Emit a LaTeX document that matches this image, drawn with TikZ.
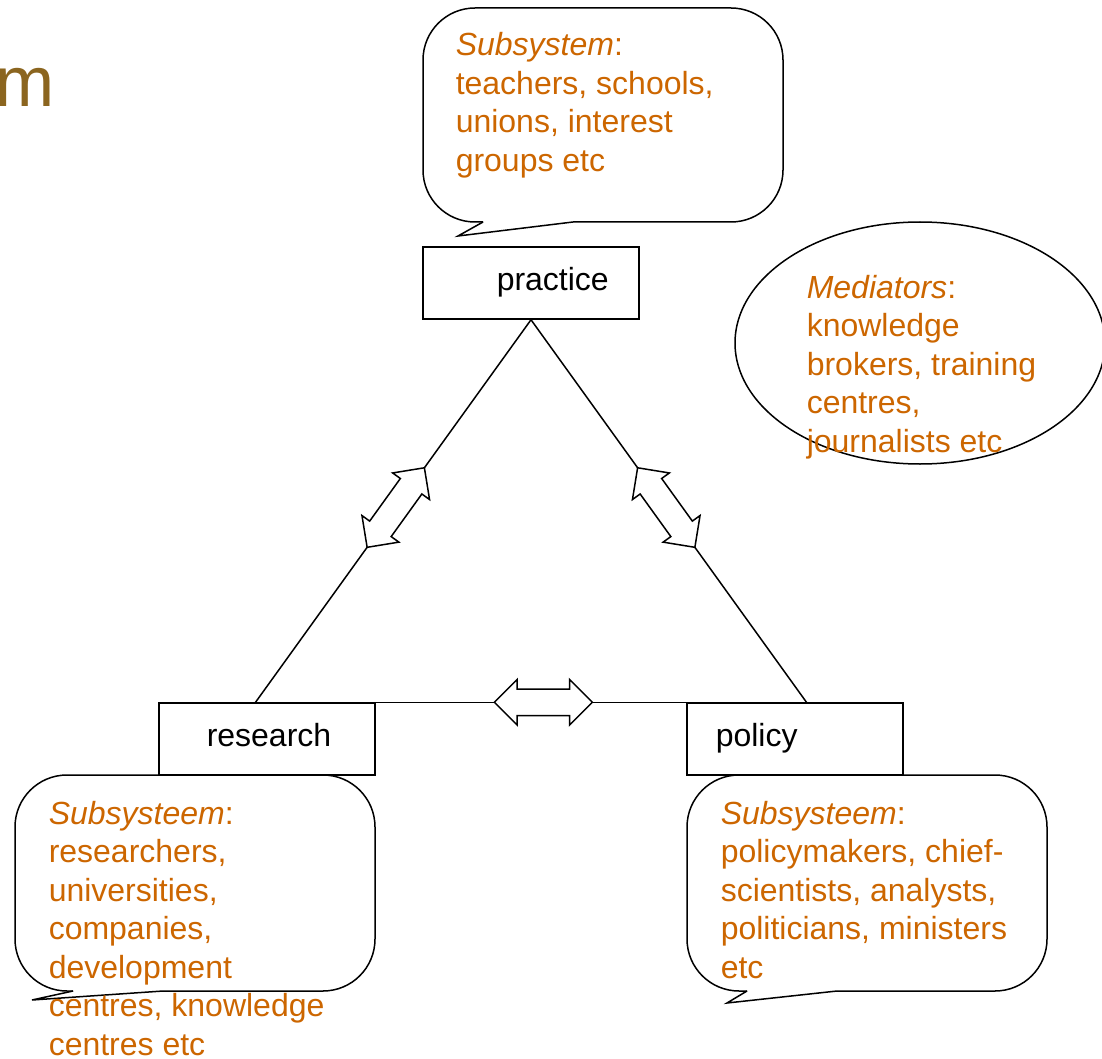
\documentclass[tikz,border=0pt]{standalone}
\usepackage{fontspec}
\setmainfont{Liberation Sans}
\usetikzlibrary{shapes.geometric,shapes.arrows}
\definecolor{subtext}{RGB}{204,102,0}
\definecolor{titlebrown}{RGB}{139,101,31}
\tikzset{
  box/.style={draw,minimum width=108pt,minimum height=36pt,inner sep=0pt},
  dblarrow/.style={draw,fill=white,double arrow,double arrow head extend=4.75pt,
    double arrow tip angle=90,minimum height=49pt,minimum width=22pt,
    inner xsep=0pt,inner ysep=6.25pt},
  subtxt/.style={anchor=base west,align=left,inner sep=0pt,text=subtext,
    font=\fontsize{16}{19.25}\selectfont},
  boxtxt/.style={anchor=base west,inner sep=0pt,font=\fontsize{16}{19.25}\selectfont}
}
\begin{document}
\begin{tikzpicture}[x=0.5pt,y=-0.5pt,line width=0.75pt]
\useasboundingbox (0,0) rectangle (1102,1059);
\node[anchor=base west,inner sep=0pt,text=titlebrown,font=\fontsize{35.5}{40}\selectfont] (title) at (-5,107) {m};
% the three boxes
\node[box] (practice) at (531,283) {};
\node[box] (research) at (267,739) {};
\node[box] (policy) at (795,739) {};
\node[boxtxt] (practicetxt) at (496,290) {practice};
\node[boxtxt] (researchtxt) at (206,746) {research};
\node[boxtxt] (policytxt) at (715,746) {policy};
\coordinate (researchtop) at (255,703);
\coordinate (policytop) at (807,703);
% triangle with double arrows
\draw (practice.south) -- node[dblarrow,sloped,pos=.49] (arrowleft) {} (researchtop);
\draw (practice.south) -- node[dblarrow,sloped,pos=.49] (arrowright) {} (policytop);
\draw (research.north east) -- node[dblarrow,pos=.54] (arrowmid) {} (policy.north west);
% callouts
\draw[rounded corners=26pt] (573,222)--(783,222)--(783,8)--(423,8)--(423,222)--(483,222);
\draw (483,222)--(458,236)--(573,222);
\draw[rounded corners=26pt] (163,991)--(375,991)--(375,775)--(15,775)--(15,991)--(73,991);
\draw (73,991)--(32,1000)--(163,991);
\draw[rounded corners=26pt] (837,991)--(1047,991)--(1047,775)--(687,775)--(687,991)--(747,991);
\draw (747,991)--(727,1003)--(837,991);
\node[draw,ellipse,minimum width=185pt,minimum height=121pt,inner sep=0pt] (mediators) at (920,343) {};
% texts (base = last line)
\node[subtxt] (practicesub) at (455,171.5) {\textit{Subsystem}:\\teachers, schools,\\unions, interest\\groups etc};
\node[subtxt] (mediatorstxt) at (806,452) {\textit{Mediators}:\\knowledge\\brokers, training\\centres,\\journalists etc};
\node[subtxt] (researchsub) at (48,1055) {\textit{Subsysteem}:\\researchers,\\universities,\\companies,\\development\\centres, knowledge\\centres etc};
\node[subtxt] (policysub) at (720,978) {\textit{Subsysteem}:\\policymakers, chief-\\scientists, analysts,\\politicians, ministers\\etc};
\end{tikzpicture}
\end{document}
